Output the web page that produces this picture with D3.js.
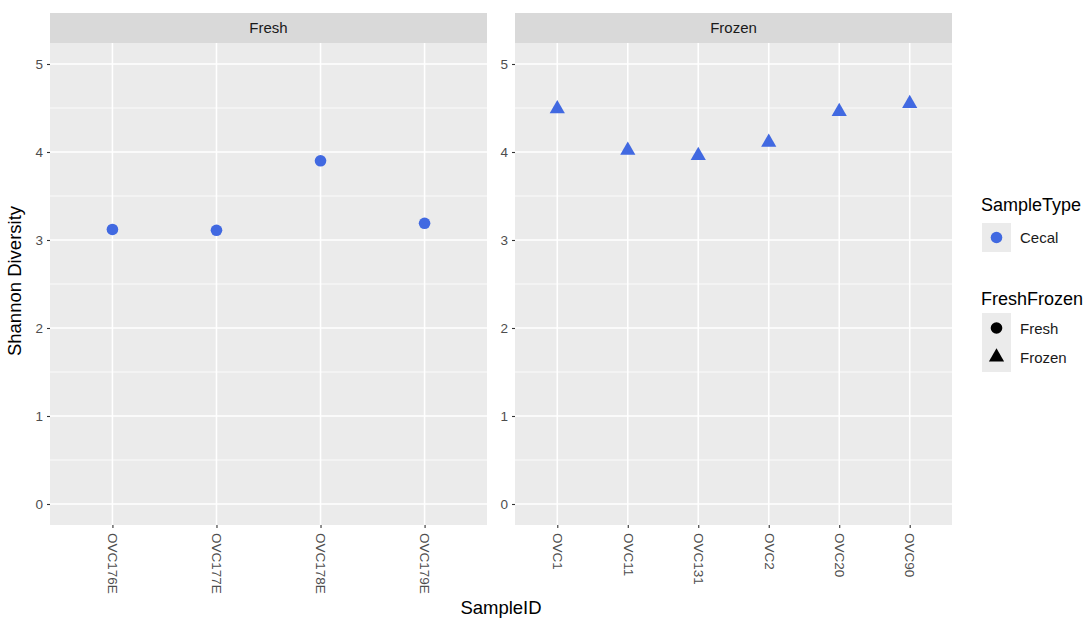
<!DOCTYPE html>
<html><head><meta charset="utf-8">
<script src="https://cdn.jsdelivr.net/npm/d3@7"></script>
<style>body{margin:0;background:#fff;}svg{display:block;font-family:"Liberation Sans",Arial,sans-serif;}</style>
</head><body>
<svg id="chart" width="1092" height="621"></svg>
<script>
const freshIDs = ["OVC176E","OVC177E","OVC178E","OVC179E"];
const freshValues = [3.12, 3.11, 3.90, 3.19];
const frozenIDs = ["OVC1","OVC11","OVC131","OVC2","OVC20","OVC90"];
const frozenValues = [4.49, 4.02, 3.96, 4.11, 4.46, 4.55];
const yTicks = [0,1,2,3,4,5];
const panelTitles = ["Fresh","Frozen"];
const sampleTypeLabels = ["Cecal"];
const shapeLabels = ["Fresh","Frozen"];

const svg = d3.select("#chart");
const panelTop = 43, panelBottom = 525, stripTop = 13;
const y = d3.scaleLinear().domain([0,5]).range([504,64]);
const yExt = [y.invert(panelBottom), y.invert(panelTop)];
const color = "#4169E1";
const tickFont = 13.5;
const triSize = 100;

const panels = [
  {title: panelTitles[0], ids: freshIDs, vals: freshValues, x0: 50, x1: 487, shape: "circle"},
  {title: panelTitles[1], ids: frozenIDs, vals: frozenValues, x0: 515, x1: 952, shape: "triangle"}
];

panels.forEach(p => {
  const n = p.ids.length;
  const step = (p.x1 - p.x0) / (n - 1 + 1.2);
  const x = d3.scalePoint().domain(p.ids).range([p.x0 + 0.6*step, p.x1 - 0.6*step]);
  const g = svg.append("g");
  g.append("rect").attr("x", p.x0).attr("y", panelTop).attr("width", p.x1-p.x0).attr("height", panelBottom-panelTop).attr("fill","#EBEBEB");
  g.selectAll(".minor").data(d3.range(0.5,5.5,1).filter(v=>v<yExt[1])).join("line")
    .attr("x1",p.x0).attr("x2",p.x1).attr("y1",d=>y(d)).attr("y2",d=>y(d))
    .attr("stroke","#fff").attr("stroke-width",0.8);
  g.selectAll(".major").data(yTicks).join("line")
    .attr("x1",p.x0).attr("x2",p.x1).attr("y1",d=>y(d)).attr("y2",d=>y(d))
    .attr("stroke","#fff").attr("stroke-width",1.6);
  g.selectAll(".vmajor").data(p.ids).join("line")
    .attr("x1",d=>x(d)).attr("x2",d=>x(d)).attr("y1",panelTop).attr("y2",panelBottom)
    .attr("stroke","#fff").attr("stroke-width",1.6);
  g.append("rect").attr("x",p.x0).attr("y",stripTop).attr("width",p.x1-p.x0).attr("height",panelTop-stripTop).attr("fill","#D9D9D9");
  g.append("text").attr("x",(p.x0+p.x1)/2).attr("y",(stripTop+panelTop)/2).attr("dy","0.35em")
    .attr("text-anchor","middle").attr("font-size",15).attr("fill","#1A1A1A").text(p.title);
  const ya = d3.axisLeft(y).tickValues(yTicks).tickSize(3).tickPadding(4).tickFormat(d3.format("d"));
  const yg = svg.append("g").attr("transform",`translate(${p.x0},0)`).call(ya);
  yg.select(".domain").remove();
  yg.selectAll("line").attr("stroke","#333").attr("stroke-width",1.1);
  yg.selectAll("text").attr("font-size",tickFont).attr("fill","#4D4D4D").attr("font-family","Liberation Sans, Arial, sans-serif");
  const xa = d3.axisBottom(x).tickSize(3).tickPadding(4);
  const xg = svg.append("g").attr("transform",`translate(0,${panelBottom})`).call(xa);
  xg.select(".domain").remove();
  xg.selectAll("line").attr("stroke","#333").attr("stroke-width",1.1);
  xg.selectAll("text").attr("font-size",tickFont).attr("fill","#4D4D4D").attr("font-family","Liberation Sans, Arial, sans-serif")
    .attr("transform","rotate(90)").attr("text-anchor","start").attr("x",8).attr("y",0).attr("dy","0.35em");
  const data = p.ids.map((id,i)=>({id, v:p.vals[i]}));
  if (p.shape === "circle") {
    g.selectAll(".pt").data(data).join("circle").attr("cx",d=>x(d.id)).attr("cy",d=>y(d.v)).attr("r",5.8).attr("fill",color);
  } else {
    const tri = d3.symbol().type(d3.symbolTriangle).size(triSize);
    g.selectAll(".pt").data(data).join("path").attr("d",tri)
      .attr("transform",d=>`translate(${x(d.id)},${y(d.v)})`).attr("fill",color);
  }
});

svg.append("text").attr("x",501).attr("y",614).attr("text-anchor","middle").attr("font-size",18.5).attr("fill","#000").text("SampleID");
svg.append("text").attr("transform","translate(21,281) rotate(-90)").attr("text-anchor","middle").attr("font-size",18.5).attr("fill","#000").text("Shannon Diversity");

const lg = svg.append("g");
lg.append("text").attr("x",981).attr("y",211).attr("font-size",18).attr("fill","#000").text("SampleType");
lg.append("rect").attr("x",982).attr("y",223).attr("width",29).attr("height",29).attr("fill","#EBEBEB");
lg.append("circle").attr("cx",996.5).attr("cy",237.5).attr("r",5.8).attr("fill",color);
lg.append("text").attr("x",1020).attr("y",238).attr("dy","0.35em").attr("font-size",15).attr("fill","#1A1A1A").text(sampleTypeLabels[0]);

lg.append("text").attr("x",981).attr("y",305).attr("font-size",18).attr("fill","#000").text("FreshFrozen");
lg.append("rect").attr("x",982).attr("y",313).attr("width",29).attr("height",59).attr("fill","#EBEBEB");
lg.append("circle").attr("cx",996.5).attr("cy",328).attr("r",5.8).attr("fill","#000");
lg.append("path").attr("d",d3.symbol().type(d3.symbolTriangle).size(triSize)).attr("transform","translate(996.5,357)").attr("fill","#000");
shapeLabels.forEach((s,i)=>{
  lg.append("text").attr("x",1020).attr("y",329+i*29).attr("dy","0.35em").attr("font-size",15).attr("fill","#1A1A1A").text(s);
});
</script>
</body></html>
